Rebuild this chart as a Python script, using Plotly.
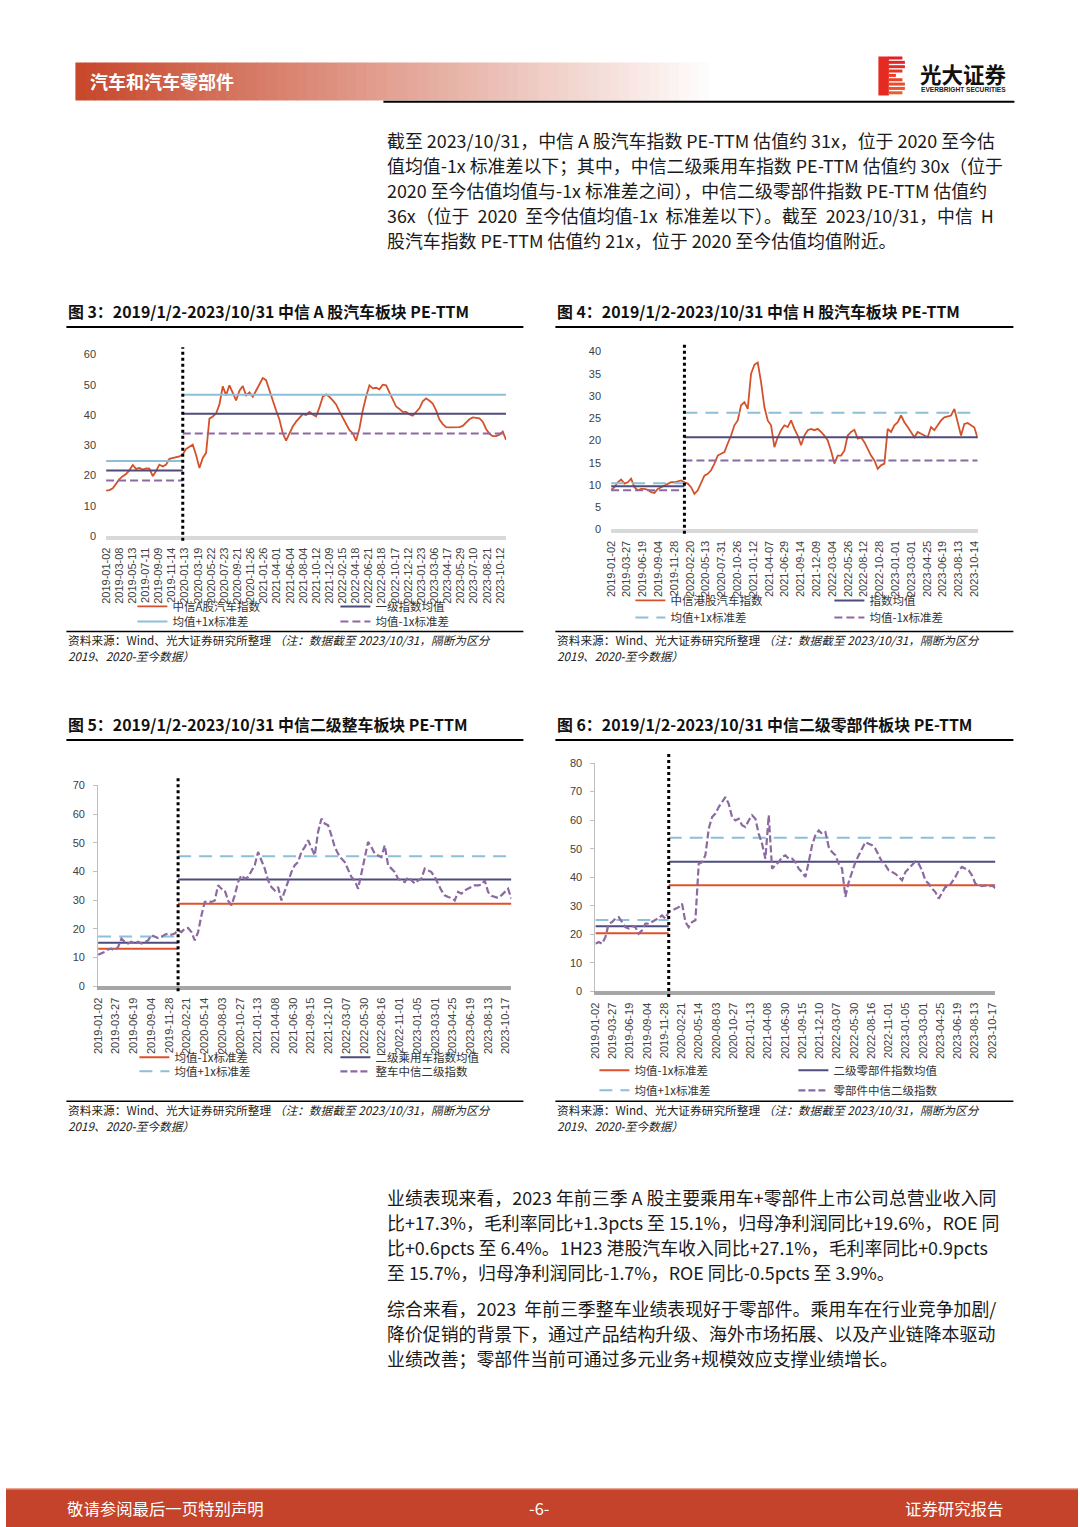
import numpy as np
import plotly.graph_objects as go

# ---------------- data ----------------
# Fig 3: CITIC A-share auto sector PE-TTM
a_ticks = ['2019-01-02', '2019-03-08', '2019-05-13', '2019-07-11', '2019-09-09', '2019-11-14',
           '2020-01-13', '2020-03-19', '2020-05-22', '2020-07-23', '2020-09-21', '2020-11-26',
           '2021-01-26', '2021-04-01', '2021-06-04', '2021-08-04', '2021-10-12', '2021-12-09',
           '2022-02-15', '2022-04-18', '2022-06-21', '2022-08-18', '2022-10-17', '2022-12-12',
           '2023-01-23', '2023-03-06', '2023-04-17', '2023-05-29', '2023-07-10', '2023-08-21',
           '2023-10-12']
a_pe = [15.0, 15.2, 15.8, 17.3, 18.8, 19.8, 20.5, 21.8, 23.5, 22.2,
        22.5, 22.0, 22.4, 22.3, 19.8, 21.5, 23.6, 23.0, 23.6, 25.5,
        25.8, 25.9, 26.3, 27.0, 28.8, 29.5, 30.2, 26.8, 22.5, 25.8,
        27.5, 38.8, 39.5, 40.5, 43.5, 49.5, 46.5, 49.8, 47.0, 44.8,
        48.0, 49.6, 46.5, 47.5, 46.0, 48.0, 50.5, 52.2, 51.5, 48.0,
        44.5, 41.5, 38.5, 34.0, 31.5, 34.0, 36.2, 37.8, 39.0, 40.3,
        40.0, 41.0, 40.2, 39.5, 42.5, 46.0, 46.8, 46.0, 44.8, 43.5,
        41.2, 39.2, 37.5, 35.0, 34.0, 31.5, 35.5, 41.5, 46.0, 49.8,
        48.8, 49.0, 48.5, 50.0, 49.8, 47.5, 45.5, 42.8, 42.0, 41.0,
        41.0, 40.2, 39.8, 41.0, 42.2, 44.5, 45.5, 44.7, 43.8, 41.5,
        38.5, 37.0, 36.0, 35.9, 36.0, 35.9, 36.0, 36.4, 37.6, 38.6,
        39.2, 39.0, 38.9, 37.8, 35.4, 33.8, 33.0, 33.0, 33.5, 34.5,
        31.8]
a_per_tick = 3.94      # samples per labelled category step
a_split = 23           # first 2020 sample
a_mean = [21.7, 40.4]  # 2019, 2020-now
a_up = [24.8, 46.7]
a_dn = [18.4, 33.9]

# Fig 4: CITIC H-share auto sector PE-TTM
h_ticks = ['2019-01-02', '2019-03-27', '2019-06-19', '2019-09-04', '2019-11-28', '2020-02-20',
           '2020-05-13', '2020-07-31', '2020-10-26', '2021-01-12', '2021-04-07', '2021-06-29',
           '2021-09-14', '2021-12-09', '2022-03-04', '2022-05-26', '2022-08-12', '2022-10-28',
           '2023-01-01', '2023-03-01', '2023-04-25', '2023-06-19', '2023-08-13', '2023-10-14']
h_pe = [8.9, 9.5, 10.6, 11.2, 10.3, 10.6, 11.4, 9.5, 8.8, 9.1,
        9.1, 8.9, 8.4, 8.2, 9.1, 9.5, 9.9, 10.3, 10.6, 10.6,
        10.8, 11.0, 10.6, 10.3, 9.5, 8.0, 8.8, 10.3, 12.1, 12.5,
        13.3, 14.8, 16.6, 17.0, 17.4, 19.3, 21.1, 23.4, 24.5, 27.9,
        28.6, 27.1, 35.0, 37.0, 37.5, 33.1, 27.5, 24.5, 23.4, 18.5,
        20.7, 22.3, 23.4, 23.0, 24.5, 22.6, 21.1, 18.9, 21.1, 22.3,
        22.6, 22.3, 22.6, 21.9, 21.1, 20.0, 17.7, 14.8, 16.6, 16.6,
        17.7, 21.1, 21.9, 22.4, 20.4, 20.7, 19.6, 18.1, 16.6, 15.5,
        13.6, 14.4, 14.8, 22.6, 21.9, 23.4, 24.1, 25.6, 24.1, 23.0,
        21.9, 20.7, 21.9, 21.5, 21.1, 20.7, 23.0, 22.3, 23.4, 24.5,
        25.2, 25.4, 25.6, 27.1, 24.1, 21.1, 23.7, 23.9, 23.4, 22.9,
        20.5]
h_per_tick = 4.74
h_split = 22
h_mean = [9.7, 20.7]
h_up = [10.4, 26.2]
h_dn = [8.8, 15.5]

# Fig 5: CITIC level-2 passenger vehicle PE-TTM
car_ticks = ['2019-01-02', '2019-03-27', '2019-06-19', '2019-09-04', '2019-11-28', '2020-02-21',
             '2020-05-14', '2020-08-03', '2020-10-27', '2021-01-13', '2021-04-08', '2021-06-30',
             '2021-09-15', '2021-12-10', '2022-03-07', '2022-05-30', '2022-08-16', '2022-11-01',
             '2023-01-05', '2023-03-01', '2023-04-25', '2023-06-19', '2023-08-13', '2023-10-17']
car_pe = [11.0, 11.4, 12.0, 12.9, 13.1, 12.5, 13.7, 16.6, 15.5, 14.9,
          15.5, 14.9, 15.5, 14.9, 15.5, 16.0, 17.8, 17.2, 16.8, 17.2,
          18.0, 18.4, 18.0, 18.4, 19.5, 18.9, 20.1, 20.3, 18.9, 16.0,
          18.9, 24.7, 29.4, 29.6, 29.4, 29.9, 35.2, 34.0, 33.4, 29.9,
          28.2, 31.7, 36.3, 38.7, 37.5, 38.1, 40.4, 42.2, 46.8, 43.9,
          41.0, 36.9, 34.6, 33.4, 34.6, 29.9, 33.4, 36.3, 39.8, 42.2,
          43.3, 46.8, 48.5, 50.9, 48.5, 45.6, 53.8, 58.4, 56.7, 56.1,
          52.6, 48.5, 46.2, 44.5, 43.3, 40.4, 38.1, 36.9, 34.0, 39.3,
          44.5, 50.3, 48.5, 46.2, 45.6, 45.0, 49.1, 42.2, 41.0, 39.8,
          37.5, 36.9, 36.3, 38.1, 36.9, 35.8, 36.9, 37.5, 41.0, 40.4,
          39.8, 38.1, 35.8, 33.4, 31.7, 31.1, 30.8, 29.9, 32.9, 32.3,
          33.4, 34.0, 34.6, 35.2, 35.2, 35.4, 36.9, 32.9, 31.5, 31.1,
          30.8, 31.7, 32.9, 34.0, 30.5]
car_per_tick = 5.32
car_split = 24
car_mean = [15.2, 37.2]
car_up = [17.4, 45.3]
car_dn = [13.1, 28.8]

# Fig 6: CITIC level-2 auto parts PE-TTM
parts_ticks = list(car_ticks)
parts_pe = [16.7, 17.3, 16.7, 19.0, 23.7, 24.3, 25.5, 26.0, 24.3, 22.5,
            22.0, 22.9, 22.5, 20.2, 21.4, 23.7, 23.7, 24.3, 24.9, 25.7,
            26.6, 25.5, 27.8, 28.4, 29.0, 29.5, 30.7, 24.3, 22.5, 24.3,
            24.9, 44.7, 45.3, 47.7, 57.0, 61.1, 62.3, 64.6, 66.3, 68.1,
            65.7, 61.1, 59.9, 60.5, 58.2, 57.6, 59.9, 61.7, 60.5, 55.2,
            51.7, 46.5, 61.7, 43.0, 44.2, 45.3, 47.1, 47.7, 46.5, 46.5,
            45.3, 43.0, 41.8, 40.1, 45.3, 51.2, 54.7, 56.4, 55.2, 55.8,
            50.6, 48.8, 47.7, 44.7, 43.0, 33.1, 38.3, 41.8, 45.3, 47.7,
            50.0, 52.3, 51.7, 51.2, 50.0, 47.7, 45.3, 44.2, 42.4, 41.8,
            41.2, 40.1, 38.9, 41.8, 43.0, 44.2, 45.5, 44.7, 42.4, 38.9,
            37.7, 36.0, 34.8, 32.5, 34.8, 36.6, 36.6, 38.3, 40.1, 42.4,
            43.6, 43.0, 42.4, 40.6, 37.7, 37.4, 36.9, 37.1, 36.6, 37.1,
            36.2]
parts_per_tick = 5.175
parts_split = 22
parts_mean = [22.8, 45.4]
parts_up = [25.0, 53.8]
parts_dn = [20.4, 37.2]

# ---------------- page ----------------
W, H = 1080, 1527
CJK = 'Noto Sans CJK SC'
NUM = 'Liberation Sans'

RED = '#D4522B'
RED2 = '#E0502A'
NAVY = '#4E4B7D'
BLUE = '#8EBFD8'
PURPLE = '#8B69A1'
FOOT = '#C5432A'

# the photographed page shows the figure slightly inset (about 6px, scale ~0.992);
# positions below are page pixels, so map them back before use
OFF_X, SC_X = 6.6, 0.9926
OFF_Y, SC_Y = 5.5, 0.9923


def fx(x):
    return (x - OFF_X) / SC_X / W


def fy(y):
    return 1 - (y - OFF_Y) / SC_Y / H


fig = go.Figure()
shapes = []
annotations = []


def band_xy(vals, x, split):
    xs = [x[0], x[split], None, x[split], x[-1]]
    ys = [vals[0], vals[0], None, vals[1], vals[1]]
    return xs, ys


def add_chart(k, ticks, pe, per_tick, split, box, ymax, dtick, items, axis_style):
    # box = (left px, right px, px of y=0, px of y=ymax)
    x = np.arange(len(pe)) / per_tick
    sx = '' if k == 1 else str(k)
    for name, kind, color, width, dash, leg in items:
        if kind == 'pe':
            xs, ys = x, pe
        else:
            xs, ys = band_xy(kind, x, split)
        fig.add_trace(go.Scatter(
            x=xs, y=ys, mode='lines', name=name,
            line=dict(color=color, width=width, dash=dash),
            connectgaps=False, hoverinfo='skip',
            xaxis='x' + sx, yaxis='y' + sx, legend=leg,
        ))

    left, right, y0, ytop = box
    dark = axis_style == 'dark'
    fig.layout['xaxis' + sx] = dict(
        domain=[fx(left), fx(right)], range=[0, x[-1]], anchor='y' + sx,
        tickmode='array', tickvals=list(range(len(ticks))), ticktext=ticks,
        tickangle=-90, tickfont=dict(family=NUM, size=11, color='#404040'),
        ticks='', ticklabelstandoff=3,
        showgrid=False, zeroline=False,
        showline=True, linecolor='#A6A6A6' if dark else '#D9D9D9', linewidth=4,
    )
    fig.layout['yaxis' + sx] = dict(
        domain=[fy(y0), fy(ytop)], range=[0, ymax], anchor='x' + sx,
        tick0=0, dtick=dtick,
        tickfont=dict(family=NUM, size=11, color='#404040'),
        showgrid=False, zeroline=False,
        showline=dark, linecolor='#BFBFBF', linewidth=1,
        ticks='outside' if dark else '', ticklen=4, tickcolor='#BFBFBF',
        ticklabelstandoff=6 if dark else 9,
    )
    # dotted separator 2019 | 2020-now
    shapes.append(dict(type='line', xref='x' + sx, yref='y%s domain' % sx,
                       x0=x[split], x1=x[split], y0=-0.025, y1=1.04,
                       line=dict(color='black', width=3, dash='dot')))


DASH_S = '8px,4px'
DASH_L = '13px,8px'

add_chart(1, a_ticks, a_pe, a_per_tick, a_split, (106.7, 506.7, 535.7, 354.0), 60, 10, [
    ('中信A股汽车指数', 'pe', RED, 1.8, 'solid', 'legend'),
    ('一级指数均值', a_mean, NAVY, 2, 'solid', 'legend'),
    ('均值+1x标准差', a_up, BLUE, 2, 'solid', 'legend2'),
    ('均值-1x标准差', a_dn, PURPLE, 2, DASH_S, 'legend2'),
], 'light')

add_chart(2, h_ticks, h_pe, h_per_tick, h_split, (611.7, 978.3, 529.0, 351.0), 40, 5, [
    ('中信港股汽车指数', 'pe', RED, 1.8, 'solid', 'legend3'),
    ('指数均值', h_mean, NAVY, 2, 'solid', 'legend3'),
    ('均值+1x标准差', h_up, BLUE, 2, DASH_L, 'legend4'),
    ('均值-1x标准差', h_dn, PURPLE, 2, DASH_S, 'legend4'),
], 'light')

add_chart(3, car_ticks, car_pe, car_per_tick, car_split, (98.7, 512.0, 986.0, 785.0), 70, 10, [
    ('均值-1x标准差', car_dn, RED2, 2, 'solid', 'legend5'),
    ('二级乘用车指数均值', car_mean, NAVY, 2, 'solid', 'legend5'),
    ('均值+1x标准差', car_up, BLUE, 2, DASH_L, 'legend6'),
    ('整车中信二级指数', 'pe', PURPLE, 2.2, '7px,3px', 'legend6'),
], 'dark')

add_chart(4, parts_ticks, parts_pe, parts_per_tick, parts_split, (596.0, 996.0, 991.0, 762.7), 80, 10, [
    ('均值-1x标准差', parts_dn, RED2, 2, 'solid', 'legend7'),
    ('二级零部件指数均值', parts_mean, NAVY, 2, 'solid', 'legend7'),
    ('均值+1x标准差', parts_up, BLUE, 2, DASH_L, 'legend8'),
    ('零部件中信二级指数', 'pe', PURPLE, 2.2, '7px,3px', 'legend8'),
], 'dark')

# legends: one per row, two entries each (x of first symbol, y, entry width)
legend_rows = {
    'legend': (138, 606, 158), 'legend2': (138, 621, 158),
    'legend3': (636, 600, 154), 'legend4': (636, 617, 154),
    'legend5': (140, 1057, 156), 'legend6': (140, 1071, 156),
    'legend7': (600, 1070, 154), 'legend8': (600, 1090, 154),
}
for key, (lx, ly, ew) in legend_rows.items():
    fig.layout[key] = dict(
        orientation='h', x=fx(lx - 5), y=fy(ly), xanchor='left', yanchor='middle',
        entrywidth=ew, entrywidthmode='pixels', itemwidth=30,
        bgcolor='rgba(0,0,0,0)', traceorder='normal',
        font=dict(family=CJK, size=11.5, color='#333333'),
    )

# ---------------- header ----------------
n_strip = 64
gx0, gx1 = 76, 720
for i in range(n_strip):
    t = i / (n_strip - 1)
    r = int(200 + (255 - 200) * t)
    g = int(72 + (255 - 72) * t)
    b = int(44 + (255 - 44) * t)
    shapes.append(dict(type='rect', xref='paper', yref='paper', layer='below',
                       x0=fx(gx0 + (gx1 - gx0) * i / n_strip),
                       x1=fx(gx0 + (gx1 - gx0) * (i + 1) / n_strip + 0.6),
                       y0=fy(100), y1=fy(62), line=dict(width=0),
                       fillcolor='rgb(%d,%d,%d)' % (r, g, b)))
shapes.append(dict(type='line', xref='paper', yref='paper', x0=fx(384), x1=fx(1015),
                   y0=fy(101.2), y1=fy(101.2), line=dict(color='black', width=2)))
annotations.append(dict(text='<b>汽车和汽车零部件</b>', x=fx(89), y=fy(81), xref='paper', yref='paper',
                        xanchor='left', yanchor='middle', showarrow=False,
                        font=dict(family=CJK, size=18, color='white')))

# logo: solid column plus striped "B" on the right
shapes.append(dict(type='rect', xref='paper', yref='paper', x0=fx(879), x1=fx(889.5),
                   y0=fy(95), y1=fy(56), line=dict(width=0), fillcolor='#E52A22'))
n_logo = 9
for i in range(n_logo):
    t = i / (n_logo - 1)
    top = 56 + i * 4.35
    reach = 896.5 if i in (4,) else (903 if i in (0, 3, 5, 8) else 905.5)
    col = 'rgb(%d,%d,%d)' % (int(227 + 14 * t), int(30 + 60 * t), int(36 + 7 * t))
    shapes.append(dict(type='rect', xref='paper', yref='paper',
                       x0=fx(889), x1=fx(reach), y0=fy(top + 3.0), y1=fy(top),
                       line=dict(width=0), fillcolor=col))
annotations.append(dict(text='<b>光大证券</b>', x=fx(918.5), y=fy(73.5), xref='paper', yref='paper',
                        xanchor='left', yanchor='middle', showarrow=False,
                        font=dict(family=CJK, size=21.5, color='#111111')))
annotations.append(dict(text='<b>EVERBRIGHT SECURITIES</b>', x=fx(920), y=fy(89.3), xref='paper',
                        yref='paper', xanchor='left', yanchor='middle', showarrow=False,
                        font=dict(family=NUM, size=6.6, color='#222222')))

# ---------------- body text ----------------
para1 = ['截至 2023/10/31，中信 A 股汽车指数 PE-TTM 估值约 31x，位于 2020 至今估',
         '值均值-1x 标准差以下；其中，中信二级乘用车指数 PE-TTM 估值约 30x（位于',
         '2020 至今估值均值与-1x 标准差之间），中信二级零部件指数 PE-TTM 估值约',
         '36x（位于  2020  至今估值均值-1x  标准差以下）。截至  2023/10/31，中信  H',
         '股汽车指数 PE-TTM 估值约 21x，位于 2020 至今估值均值附近。']
para2 = ['业绩表现来看，2023 年前三季 A 股主要乘用车+零部件上市公司总营业收入同',
         '比+17.3%，毛利率同比+1.3pcts 至 15.1%，归母净利润同比+19.6%，ROE 同',
         '比+0.6pcts 至 6.4%。1H23 港股汽车收入同比+27.1%，毛利率同比+0.9pcts',
         '至 15.7%，归母净利润同比-1.7%，ROE 同比-0.5pcts 至 3.9%。']
para3 = ['综合来看，2023  年前三季整车业绩表现好于零部件。乘用车在行业竞争加剧/',
         '降价促销的背景下，通过产品结构升级、海外市场拓展、以及产业链降本驱动',
         '业绩改善；零部件当前可通过多元业务+规模效应支撑业绩增长。']

for lines, y_start in ((para1, 140), (para2, 1197), (para3, 1308)):
    for i, line in enumerate(lines):
        annotations.append(dict(text=line, x=fx(386), y=fy(y_start + 25 * i), xref='paper', yref='paper',
                                xanchor='left', yanchor='middle', showarrow=False,
                                font=dict(family=CJK, size=17.9, color='#1A1A1A')))

# chart titles, rules and sources
titles = [
    ('图 3：2019/1/2-2023/10/31 中信 A 股汽车板块 PE-TTM', 67, 524, 311, 326.5, 631, 639),
    ('图 4：2019/1/2-2023/10/31 中信 H 股汽车板块 PE-TTM', 556, 1014, 311, 326.5, 631, 639),
    ('图 5：2019/1/2-2023/10/31 中信二级整车板块 PE-TTM', 67, 524, 724, 739.5, 1101, 1109),
    ('图 6：2019/1/2-2023/10/31 中信二级零部件板块 PE-TTM', 556, 1014, 724, 739.5, 1101, 1109),
]
for text, x0, x1, ty, ly, sy, sty in titles:
    annotations.append(dict(text='<b>%s</b>' % text, x=fx(x0), y=fy(ty), xref='paper', yref='paper',
                            xanchor='left', yanchor='middle', showarrow=False,
                            font=dict(family=CJK, size=15.9, color='#111111')))
    shapes.append(dict(type='line', xref='paper', yref='paper', x0=fx(x0), x1=fx(x1),
                       y0=fy(ly), y1=fy(ly), line=dict(color='black', width=2)))
    shapes.append(dict(type='line', xref='paper', yref='paper', x0=fx(x0), x1=fx(x1),
                       y0=fy(sy), y1=fy(sy), line=dict(color='black', width=1.5)))
    annotations.append(dict(text='资料来源：Wind、光大证券研究所整理 <i>（注：数据截至 2023/10/31，隔断为区分</i>',
                            x=fx(x0), y=fy(sty), xref='paper', yref='paper',
                            xanchor='left', yanchor='middle', showarrow=False,
                            font=dict(family=CJK, size=11.7, color='#222222')))
    annotations.append(dict(text='<i>2019、2020-至今数据）</i>',
                            x=fx(x0), y=fy(sty + 16.5), xref='paper', yref='paper',
                            xanchor='left', yanchor='middle', showarrow=False,
                            font=dict(family=CJK, size=11.7, color='#222222')))

# ---------------- footer ----------------
shapes.append(dict(type='rect', xref='paper', yref='paper', x0=0, x1=1,
                   y0=fy(1540), y1=fy(1488), line=dict(width=0), fillcolor=FOOT))
shapes.append(dict(type='line', xref='paper', yref='paper', x0=0, x1=1,
                   y0=fy(1488.5), y1=fy(1488.5), line=dict(color='#E9A592', width=1.5)))
for text, x, anchor in (('敬请参阅最后一页特别声明', 66, 'left'), ('-6-', 540, 'center'),
                        ('证券研究报告', 1006, 'right')):
    annotations.append(dict(text=text, x=fx(x), y=fy(1508), xref='paper', yref='paper',
                            xanchor=anchor, yanchor='middle', showarrow=False,
                            font=dict(family=CJK, size=16.4, color='white')))

fig.update_layout(
    width=W, height=H, margin=dict(l=0, r=0, t=0, b=0, pad=0),
    paper_bgcolor='white', plot_bgcolor='rgba(0,0,0,0)',
    shapes=shapes, annotations=annotations,
    font=dict(family=CJK), hovermode=False,
)

fig.write_html('out.html', config={'displayModeBar': False},
               post_script="document.body.style.margin='0';document.body.style.overflow='hidden';")
